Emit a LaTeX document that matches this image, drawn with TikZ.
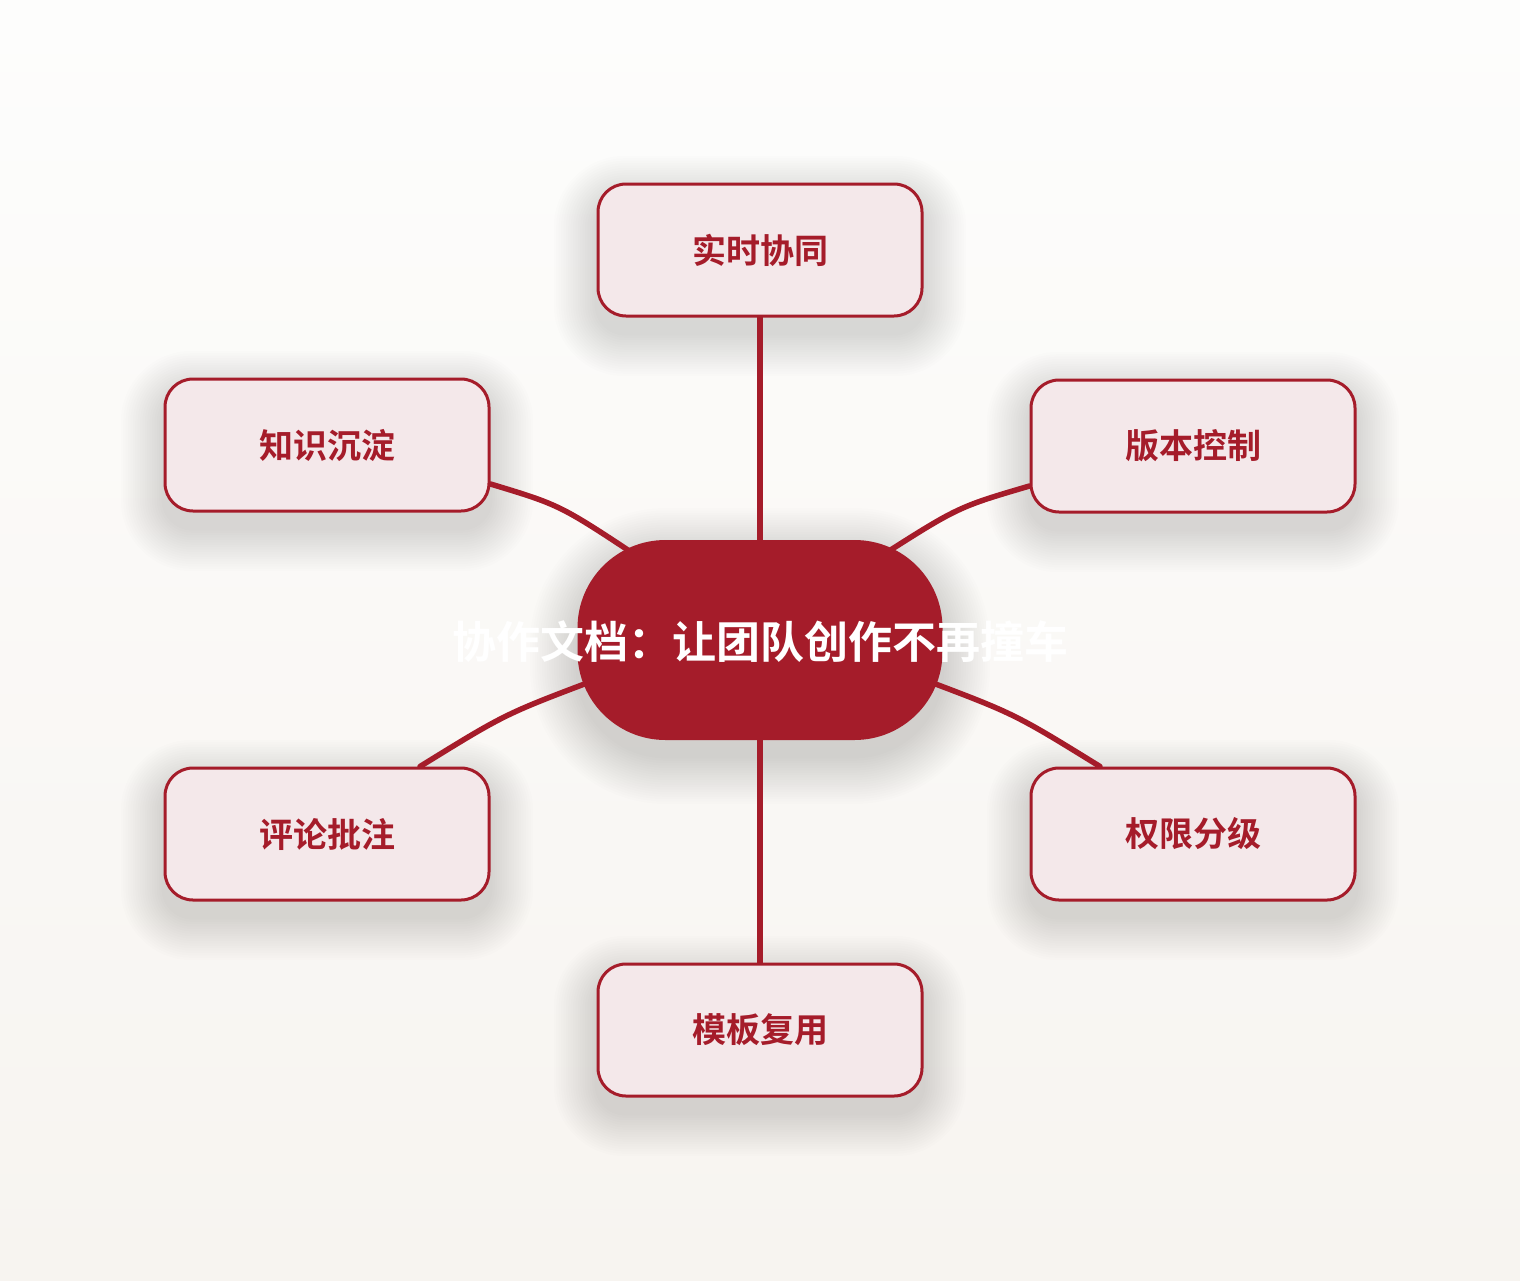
\documentclass[tikz,border=0pt]{standalone}
\usepackage{fontspec}
\newfontfamily\cjk{Noto Sans CJK SC}[BoldFont={Noto Sans CJK SC Bold}]
\usetikzlibrary{calc}
\definecolor{brand}{HTML}{A51C2A}
\definecolor{soft}{HTML}{F4E8EA}
\definecolor{bgtop}{HTML}{FDFDFC}
\definecolor{bgbot}{HTML}{F7F4F0}
\pgfdeclarelayer{back}
\pgfdeclarelayer{shade}
\pgfsetlayers{back,shade,main}
\tikzset{
  leaf/.style={draw=brand, line width=3pt, fill=soft, rounded corners=28pt,
    minimum width=324pt, minimum height=132pt, inner sep=0pt,
    font=\cjk\bfseries\fontsize{34}{40}\selectfont, text=brand},
  hub/.style={fill=brand, rounded corners=88pt, minimum width=365pt, minimum height=200pt, inner sep=0pt},
  hubtext/.style={font=\cjk\bfseries\fontsize{44}{50}\selectfont, text=white, inner sep=0pt},
  link/.style={draw=brand, line width=5.5pt, line cap=round},
  shadowlayer/.style={fill=black, fill opacity=0.0075}
}
% #1 node, #2 half width, #3 half height, #4 corner radius, #5 layers
\newcommand\softdrop[5]{%
  \foreach \i in {1,...,#5}{%
    \pgfmathsetmacro\rr{#4+2.4*\i}%
    \pgfmathsetmacro\ex{2.4*\i}%
    \fill[shadowlayer, rounded corners=\rr pt]
      ($(#1.center)+(-#2-\ex,-#3-\ex+16)$) rectangle ($(#1.center)+(#2+\ex,#3+\ex+16)$);
  }%
}
\begin{document}
\begin{tikzpicture}[x=1pt,y=-1pt]
\useasboundingbox (0,0) rectangle (1520,1280);
\begin{pgfonlayer}{back}
\shade[top color=bgtop, bottom color=bgbot] (0,0) rectangle (1520,1280);
\end{pgfonlayer}

% leaves
\node[leaf] (top) at (760,250) {实时协同};
\node[leaf] (ul)  at (327,445) {知识沉淀};
\node[leaf] (ur)  at (1193,446) {版本控制};
\node[leaf] (ll)  at (327,834) {评论批注};
\node[leaf] (lr)  at (1193,834) {权限分级};
\node[leaf] (bot) at (760,1030) {模板复用};

% hub
\coordinate (c0) at (760,640);
\node[hub] (c) at (c0) {};

\begin{pgfonlayer}{shade}
\softdrop{top}{163}{67}{28}{18}
\softdrop{ul}{163}{67}{28}{18}
\softdrop{ur}{163}{67}{28}{18}
\softdrop{ll}{163}{67}{28}{18}
\softdrop{lr}{163}{67}{28}{18}
\softdrop{bot}{163}{67}{28}{18}
\softdrop{c}{182}{100}{88}{20}
\end{pgfonlayer}

% connector end points
\coordinate (ulS) at ($(ul.east)+(0,39)$);
\coordinate (ulE) at ($(c0)+(-120,-82)$);
\coordinate (urS) at ($(ur.west)+(0,40)$);
\coordinate (urE) at ($(c0)+(118,-82)$);
\coordinate (llS) at ($(ll.north)+(93,0)$);
\coordinate (llE) at ($(c0)+(-165,40)$);
\coordinate (lrS) at ($(lr.north)+(-93,0)$);
\coordinate (lrE) at ($(c0)+(165,40)$);

\begin{pgfonlayer}{shade}
\draw[link] (top.south) -- (c.north);
\draw[link] (bot.north) -- (c.south);
\draw[link] (ulS) .. controls (560,505) .. (ulE);
\draw[link] (urS) .. controls (958,507) .. (urE);
\draw[link] (llS) .. controls (505,714) .. (llE);
\draw[link] (lrS) .. controls (1015,714) .. (lrE);
\end{pgfonlayer}

\node[hubtext] (ct) at (760,642) {协作文档：让团队创作不再撞车};
\end{tikzpicture}
\end{document}
